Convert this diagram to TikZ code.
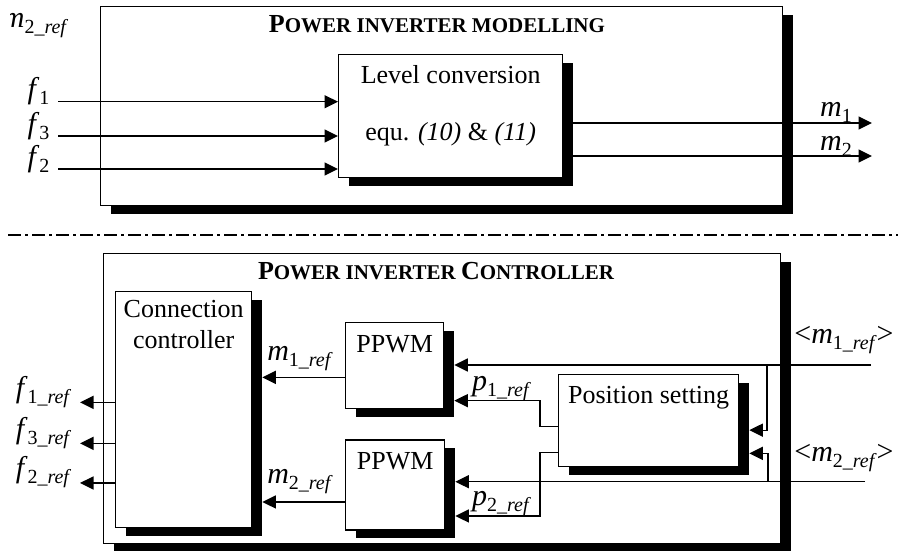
\documentclass[tikz,border=0pt]{standalone}
\usepackage{fontspec}
\setmainfont{Liberation Serif}
\usetikzlibrary{arrows.meta,positioning,shadows}

\newcommand{\sub}[1]{\raisebox{-6pt}{\fontsize{20}{20}\selectfont #1}}
\newcommand{\sref}[2]{\textit{#1}\sub{#2\_\textit{ref}}}
\newcommand{\bigsc}[2]{{\fontsize{26}{26}\selectfont #1}{\fontsize{21}{21}\selectfont #2}}

\tikzset{
  block/.style={draw, fill=white, line width=1.3pt, anchor=north west,
    drop shadow={shadow xshift=10pt, shadow yshift=-8pt, fill=black, opacity=1}},
  txt/.style={anchor=base, inner sep=0pt, font=\fontsize{26}{26}\selectfont},
  sig/.style={inner sep=0pt, font=\fontsize{30}{30}\selectfont},
  heading/.style={anchor=base, inner sep=0pt, font=\bfseries},
  toshadow/.style={shorten >=10pt},
}

\begin{document}
\begin{tikzpicture}[x=1pt,y=-1pt,>={Triangle[length=13.5pt,width=13pt]},line width=1.3pt]
\useasboundingbox (0,0) rectangle (898,550);

% modelling part
\node[block, minimum width=682, minimum height=199] (model) at (100,6) {};
\node[heading] (modtitle) at (437,32) {\bigsc{P}{OWER INVERTER MODELLING}};

\node[block, minimum width=224, minimum height=123] (lvl) at (338,54) {};
\node[txt] (lvltxt) at ([yshift=-29pt]lvl.north) {Level conversion};
\node[txt] (equtxt) at ([yshift=-86pt]lvl.north) {equ. \textit{(10)} \& \textit{(11)}};

\begin{scope}
  \clip (10,0) rectangle (100,50);
  \node[sig, anchor=base east] (mref) at (69,27) {\sref{m}{2}};
\end{scope}

\foreach \name/\idx/\y in {f1/1/101.7, f3/3/136, f2/2/169} {
  \coordinate (in\name) at (58,\y);
  \node[sig, anchor=base east] (\name) at (50,\y-3) {\textit{f}\sub{\idx}};
  \draw[->] (in\name) -- (in\name -| lvl.west);
}

\foreach \idx/\y/\ly in {1/123/116.7, 2/156/150} {
  \coordinate (out\idx) at (872,\y);
  \draw[->] (lvl.east |- out\idx) -- (out\idx);
  \node[sig, anchor=base] (m\idx) at (836,\ly) {\textit{m}\sub{\idx}};
}

% separation
\coordinate (sepl) at (8,235);
\coordinate (sepr) at (898,235);
\draw[line width=1.1pt, dash pattern=on 13pt off 4pt on 3pt off 4pt] (sepl) -- (sepr);

% controller part
\node[block, minimum width=677, minimum height=290] (ctrl) at (103,253) {};
\node[heading] (ctrltitle) at (436,279) {\bigsc{P}{OWER INVERTER }\bigsc{C}{ONTROLLER}};

\node[block, minimum width=136, minimum height=236] (conn) at (115,291) {};
\node[txt] (conntxt) at ([yshift=-26pt]conn.north) {Connection};
\node[txt] (ctrltxt) at ([yshift=-57pt]conn.north) {controller};

\node[block, minimum width=98, minimum height=86] (ppwm1) at (345,322) {};
\node[txt] (ppwmtxt1) at ([yshift=-30pt]ppwm1.north) {PPWM};
\node[block, minimum width=99, minimum height=90] (ppwm2) [below=30pt of ppwm1.south west, anchor=north west] {};
\node[txt] (ppwmtxt2) at ([yshift=-30pt]ppwm2.north) {PPWM};

\node[block, minimum width=180, minimum height=92] (pos) at (558,374) {};
\node[txt] (postxt) at ([yshift=-29pt]pos.north) {Position setting};

\foreach \name/\idx/\dy in {f1r/1/7.3, f3r/3/-33.7, f2r/2/-73.3} {
  \draw[->] ([yshift=\dy pt]conn.west) -- ++(-35,0) coordinate (tip\name);
  \node[sig, anchor=base east] (\name) at ([xshift=-8pt,yshift=5pt]tip\name) {\sref{f}{\idx}};
}

% ppwm to connection controller
\draw[->,toshadow] ([yshift=-11.7pt]ppwm1.west) -- ([yshift=-11.7pt]ppwm1.west -| conn.east);
\node[sig, anchor=base] (m1r) at (300,360) {\sref{m}{1}};
\draw[->,toshadow] ([yshift=-17pt]ppwm2.west) -- ([yshift=-17pt]ppwm2.west -| conn.east);
\node[sig, anchor=base] (m2r) at (300,483.3) {\sref{m}{2}};

% inputs
\coordinate (m1in) at (871,365);
\coordinate (m2in) at (865,481.7);
\coordinate (br1) at (767,365);
\coordinate (br2) at (768,481.7);
\draw[->,toshadow] (m1in) -- (m1in -| ppwm1.east);
\draw[->,toshadow] (m2in) -- (m2in -| ppwm2.east);
\draw[->,toshadow] (br1) |- ([yshift=-9.5pt]pos.east);
\draw[->,toshadow] (br2) |- ([yshift=-32.7pt]pos.east);
\node[sig, anchor=base] (m1lab) at (844,343) {<\sref{m}{1}>};
\node[sig, anchor=base] (m2lab) at (844,461) {<\sref{m}{2}>};

% position references
\draw[->,toshadow] ([yshift=-6pt]pos.west) -- ++(-18,0) |- ([yshift=-35pt]ppwm1.east);
\draw[->,toshadow] ([yshift=-31.7pt]pos.west) -- ++(-18,0) |- ([yshift=-31pt]ppwm2.east);
\node[sig, anchor=base] (p1r) at (501.5,390) {\sref{p}{1}};
\node[sig, anchor=base] (p2r) at (501.5,505) {\sref{p}{2}};

\end{tikzpicture}
\end{document}
